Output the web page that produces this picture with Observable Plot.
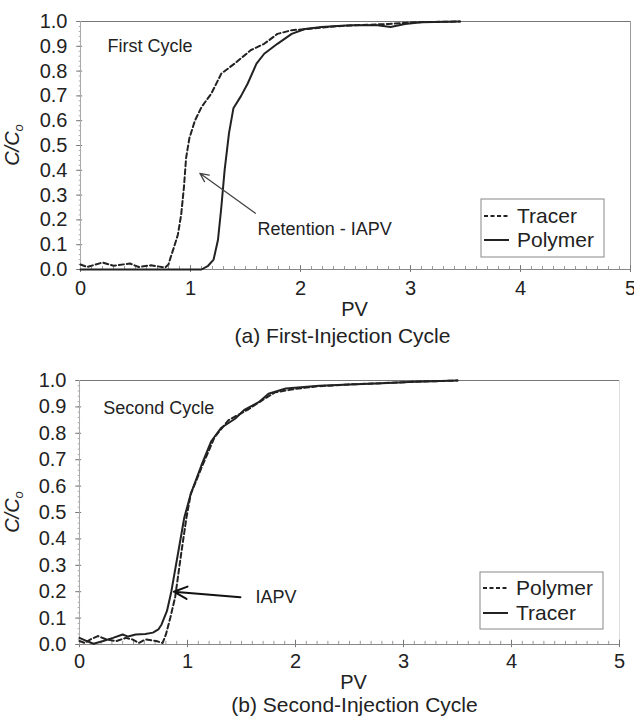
<!DOCTYPE html>
<html><head><meta charset="utf-8">
<script src="https://cdn.jsdelivr.net/npm/d3@7"></script>
<script src="https://cdn.jsdelivr.net/npm/@observablehq/plot@0.6"></script>
<style>body{margin:0;background:#fff}#chart{width:634px}svg{display:block}</style>
</head><body><div id="chart"></div>
<script>
// ---- axis ticks ----
const xTicks = [0, 1, 2, 3, 4, 5];
const xTickLabels = ["0", "1", "2", "3", "4", "5"];
const yTicks = [0, 0.1, 0.2, 0.3, 0.4, 0.5, 0.6, 0.7, 0.8, 0.9, 1.0];
const xMinor = d3.range(0, 50).map(i => i / 10);
const yMinor = d3.range(0, 51).map(i => i / 50);

// ---- (a) First-injection cycle ----
const aTracerX = [0,0.06,0.2,0.3,0.45,0.53,0.64,0.77,0.8,0.82,0.85,0.885,0.915,0.94,0.96,0.99,1.04,1.1,1.19,1.28,1.4,1.55,1.67,1.79,1.92,2.07,2.3,2.5,2.8,3.05,3.45];
const aTracerY = [0.02,0.01,0.028,0.015,0.024,0.01,0.017,0.008,0.02,0.05,0.09,0.14,0.22,0.33,0.45,0.53,0.6,0.655,0.71,0.79,0.83,0.885,0.91,0.95,0.965,0.97,0.98,0.985,0.99,0.997,1.0];
const aPolymerX = [0,1.1,1.16,1.21,1.25,1.28,1.31,1.35,1.39,1.46,1.52,1.6,1.67,1.79,1.92,2.04,2.19,2.45,2.7,2.82,2.95,3.1,3.45];
const aPolymerY = [0,0,0.015,0.04,0.12,0.25,0.4,0.55,0.65,0.7,0.75,0.83,0.87,0.91,0.95,0.97,0.978,0.985,0.985,0.978,0.99,0.997,1.0];

// ---- (b) Second-injection cycle ----
const bPolymerX = [0,0.05,0.1,0.17,0.25,0.34,0.43,0.49,0.55,0.61,0.71,0.77,0.8,0.84,0.886,0.94,0.99,1.03,1.13,1.25,1.38,1.56,1.69,1.81,2.0,2.2,2.5,2.8,3.1,3.5];
const bPolymerY = [0.013,0.006,0.019,0.032,0.019,0.013,0.025,0.019,0.006,0.019,0.013,0.006,0.038,0.1,0.18,0.34,0.48,0.57,0.67,0.785,0.85,0.89,0.925,0.955,0.968,0.978,0.985,0.99,0.995,1.0];
const bTracerX = [0,0.068,0.13,0.22,0.31,0.4,0.45,0.52,0.61,0.68,0.73,0.76,0.81,0.85,0.91,0.97,1.03,1.13,1.22,1.31,1.44,1.53,1.66,1.75,1.91,2.22,2.5,2.8,3.1,3.5];
const bTracerY = [0.025,0.013,0.003,0.013,0.025,0.038,0.03,0.038,0.04,0.045,0.057,0.076,0.127,0.2,0.34,0.48,0.57,0.68,0.77,0.82,0.855,0.89,0.918,0.95,0.97,0.98,0.985,0.99,0.995,1.0];

const toRows = (xs, ys) => xs.map((x, i) => ({x, y: ys[i]}));
const FONT = "'Liberation Sans', Arial, Helvetica, sans-serif";
const INK = "#222";

function panel(cfg) {
  const lines = cfg.series.map(s => Plot.line(s.data, {
    x: "x", y: "y", stroke: INK, strokeWidth: 2,
    strokeDasharray: s.dashed ? "5,3" : null
  }));
  const svg = Plot.plot({
    width: 634, height: cfg.height,
    marginTop: cfg.mt, marginBottom: cfg.mb, marginLeft: cfg.ml, marginRight: cfg.mr,
    style: {fontFamily: FONT, fontSize: "20px", color: INK, background: "#fff", overflow: "visible"},
    x: {domain: [0, 5]},
    y: {domain: [0, 1]},
    marks: [
      Plot.ruleY([1], {stroke: "#777", strokeWidth: 1.2}),
      Plot.ruleX([5], {stroke: cfg.rightColor, strokeWidth: 1}),
      Plot.ruleX(xMinor, {y1: 0, y2: 0.012, stroke: "#999"}),
      Plot.ruleX(xTicks, {y1: -0.012, y2: 0.016, stroke: "#777"}),
      Plot.ruleY(yMinor, {x1: -0.012, x2: 0.01, stroke: "#aaa"}),
      Plot.ruleY(yTicks, {x1: -0.035, x2: 0.02, stroke: "#777"}),
      Plot.ruleY([0], {stroke: "#888", strokeWidth: 1.2}),
      Plot.ruleX([0], {stroke: "#aaa"}),
      Plot.axisX({ticks: xTicks, tickSize: 0, tickPadding: cfg.xPad, label: null, fontSize: 20,
        tickFormat: (d, i) => xTickLabels[xTicks.indexOf(d)]}),
      Plot.axisY({ticks: yTicks, tickSize: 0, tickPadding: 13, tickFormat: d3.format(".1f"), label: null, fontSize: 20}),
      ...lines,
      Plot.arrow([cfg.arrow], {x1: "x1", y1: "y1", x2: "x2", y2: "y2", stroke: cfg.arrowColor, strokeWidth: cfg.arrowWidth, headLength: 11, headAngle: 50}),
      Plot.text([cfg.note], {x: "x", y: "y", text: "text", textAnchor: "start", fontSize: 18, fill: INK}),
      Plot.text([cfg.cycle], {x: "x", y: "y", text: "text", textAnchor: "start", fontSize: 18, fill: INK}),
      Plot.text(["PV"], {text: d => d, frameAnchor: "bottom", dx: cfg.pvDx, dy: cfg.pvDy, lineAnchor: "middle", fontSize: 20, fill: INK}),
      Plot.text([cfg.caption], {text: d => d, frameAnchor: "bottom", dx: cfg.capDx, dy: cfg.capDy, lineAnchor: "middle", fontSize: 21, fill: INK})
    ]
  });
  const s = d3.select(svg);
  const yl = s.append("text")
    .attr("transform", `translate(${cfg.ylX},${cfg.mt + (cfg.height - cfg.mt - cfg.mb) / 2}) rotate(-90)`)
    .attr("text-anchor", "middle").attr("font-style", "italic")
    .attr("font-size", 20).attr("fill", INK).attr("font-family", FONT);
  yl.append("tspan").text("C/C");
  yl.append("tspan").attr("font-size", 13).attr("dy", 4).text("o");
  const L = cfg.legend;
  const g = s.append("g").attr("font-family", FONT).attr("font-size", 21).attr("fill", INK)
    .attr("text-anchor", "start");
  g.append("rect").attr("x", L.x).attr("y", L.y).attr("width", L.w).attr("height", L.h)
    .attr("fill", "#fff").attr("stroke", "#888");
  L.items.forEach((it, i) => {
    const cy = L.rows[i];
    g.append("line").attr("x1", L.x + 3).attr("x2", L.x + 28).attr("y1", cy).attr("y2", cy)
      .attr("stroke", INK).attr("stroke-width", 2).attr("stroke-dasharray", it.dashed ? "4,2.5" : null);
    g.append("text").attr("x", L.x + 36).attr("y", cy).attr("dy", "0.35em").attr("text-anchor", "start").text(it.label);
  });
  return svg;
}

const panelA = panel({
  height: 360, mt: 21, mb: 91, ml: 80, mr: 4, xPad: 11, rightColor: "#999",
  series: [{data: toRows(aTracerX, aTracerY), dashed: true}, {data: toRows(aPolymerX, aPolymerY), dashed: false}],
  arrow: {x1: 1.59, y1: 0.227, x2: 1.085, y2: 0.388},
  arrowColor: "#444", arrowWidth: 1.3,
  note: {x: 1.61, y: 0.161, text: "Retention - IAPV"},
  cycle: {x: 0.245, y: 0.90, text: "First Cycle"},
  pvDx: -1, pvDy: 40, capDx: -13, capDy: 67,
  caption: "(a) First-Injection Cycle",
  ylX: 19,
  legend: {x: 481, y: 199, w: 123, h: 58, rows: [216, 240],
    items: [{label: "Tracer", dashed: true}, {label: "Polymer", dashed: false}]}
});
const panelB = panel({
  height: 365, mt: 20, mb: 81, ml: 79, mr: 15, xPad: 9, rightColor: "#ddd",
  series: [{data: toRows(bPolymerX, bPolymerY), dashed: true}, {data: toRows(bTracerX, bTracerY), dashed: false}],
  arrow: {x1: 1.49, y1: 0.179, x2: 0.873, y2: 0.2},
  arrowColor: "#111", arrowWidth: 2,
  note: {x: 1.63, y: 0.179, text: "IAPV"},
  cycle: {x: 0.22, y: 0.894, text: "Second Cycle"},
  pvDx: 4, pvDy: 38, capDx: 5, capDy: 61,
  caption: "(b) Second-Injection Cycle",
  ylX: 19,
  legend: {x: 480, y: 212, w: 123, h: 57, rows: [228, 253],
    items: [{label: "Polymer", dashed: true}, {label: "Tracer", dashed: false}]}
});
document.getElementById("chart").append(panelA, panelB);
</script>
</body></html>
